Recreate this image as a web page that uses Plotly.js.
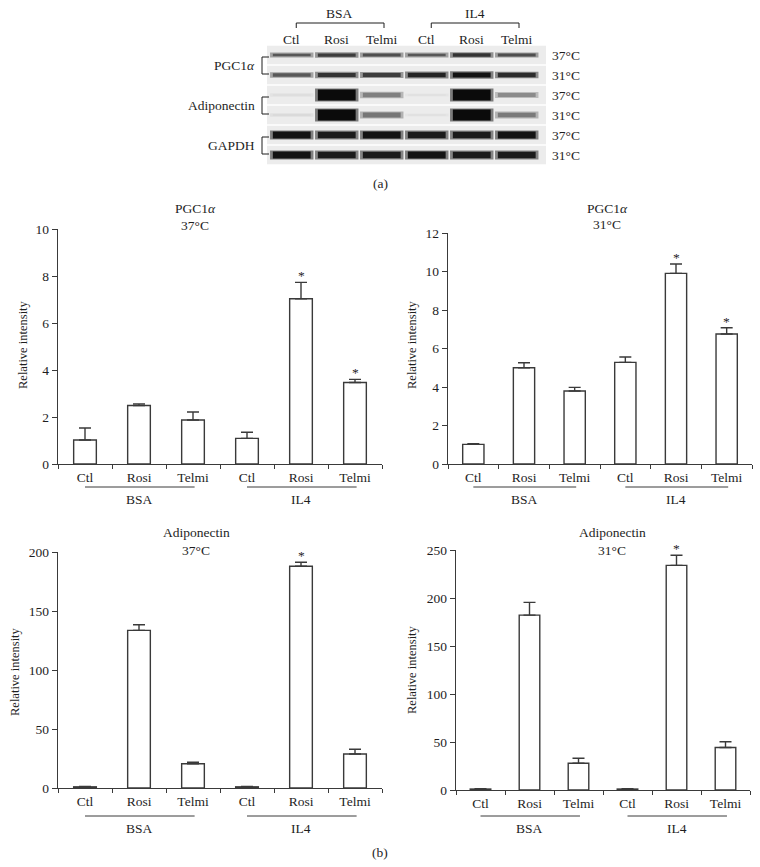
<!DOCTYPE html>
<html><head><meta charset="utf-8">
<script src="https://cdn.plot.ly/plotly-3.0.1.min.js"></script>
<style>html,body{margin:0;padding:0;background:#fff}</style>
</head><body><div id="chart" style="width:760px;height:867px"></div>
<script>
// ---------- data ----------
const treatments = ['Ctl', 'Rosi', 'Telmi', 'Ctl', 'Rosi', 'Telmi'];
const groupNames = ['BSA', 'IL4'];
const groupLanes = [[0, 2], [3, 5]];

const pgc37 = [1.02, 2.49, 1.87, 1.09, 7.03, 3.47];
const pgc37Err = [0.51, 0.07, 0.34, 0.26, 0.70, 0.13];
const pgc37Sig = [false, false, false, false, true, true];

const pgc31 = [1.02, 5.00, 3.79, 5.28, 9.90, 6.75];
const pgc31Err = [0.04, 0.26, 0.19, 0.28, 0.49, 0.33];
const pgc31Sig = [false, false, false, false, true, true];

const adipo37 = [1.0, 133.6, 20.6, 1.0, 187.9, 28.8];
const adipo37Err = [0.3, 4.8, 1.2, 0.3, 3.4, 4.0];
const adipo37Sig = [false, false, false, false, true, false];

const adipo31 = [1.0, 182.2, 27.9, 1.0, 234.0, 44.3];
const adipo31Err = [0.3, 13.2, 5.2, 0.3, 10.5, 5.9];
const adipo31Sig = [false, false, false, false, true, false];

// western blot band intensities (0..1), lanes in treatment order
const blotProteins = ['PGC1<i>α</i>', 'Adiponectin', 'GAPDH'];
const blotTemps = ['37°C', '31°C'];
const bandPGC37 = [0.55, 0.70, 0.60, 0.55, 0.75, 0.60];
const bandPGC31 = [0.55, 0.75, 0.70, 0.85, 0.95, 0.80];
const bandAdipo37 = [0.03, 1.00, 0.35, 0.02, 1.00, 0.30];
const bandAdipo31 = [0.04, 1.00, 0.40, 0.02, 1.00, 0.38];
const bandGAPDH37 = [0.95, 0.90, 0.95, 0.90, 0.90, 0.95];
const bandGAPDH31 = [0.95, 0.90, 0.90, 0.95, 0.90, 0.90];

// ---------- layout helpers ----------
const W = 760, H = 867;
const px = v => v / W;
const py = v => 1 - v / H;
const FONT = 'Liberation Serif, Times New Roman, serif';
const INK = '#3a3a3a';
const TXT = '#1e1e1e';
const lanes = treatments.map((_, i) => i);

const charts = [
  {n: '', vals: pgc37, err: pgc37Err, sig: pgc37Sig, xd: [58, 382], yd: [229, 464], range: [0, 10], dtick: 2,
   title: ['PGC1<i>α</i>', '37°C'], tx: 195, ty: [208, 226], ytx: 23, yty: 345, lineY: 487, labY: 499},
  {n: '2', vals: pgc31, err: pgc31Err, sig: pgc31Sig, xd: [448, 752], yd: [233, 464], range: [0, 12], dtick: 2,
   title: ['PGC1<i>α</i>', '31°C'], tx: 607, ty: [208, 224], ytx: 412, yty: 345, lineY: 487, labY: 499},
  {n: '3', vals: adipo37, err: adipo37Err, sig: adipo37Sig, xd: [58, 382], yd: [552, 788], range: [0, 200], dtick: 50,
   title: ['Adiponectin', '37°C'], tx: 196, ty: [532, 550], ytx: 15, yty: 672, lineY: 816, labY: 828},
  {n: '4', vals: adipo31, err: adipo31Err, sig: adipo31Sig, xd: [456, 750], yd: [550, 790], range: [0, 250], dtick: 50,
   title: ['Adiponectin', '31°C'], tx: 612, ty: [532, 550], ytx: 412, yty: 670, lineY: 816, labY: 828}
];

const data = [];
const layout = {
  width: W, height: H, margin: {l: 0, r: 0, t: 0, b: 0},
  paper_bgcolor: '#fff', plot_bgcolor: '#fff', showlegend: false,
  font: {family: FONT, size: 13.5, color: TXT},
  annotations: [], shapes: []
};
const f = (s) => ({family: FONT, size: s, color: TXT});

charts.forEach(c => {
  const xa = 'x' + c.n, ya = 'y' + c.n;
  data.push({
    type: 'bar', x: lanes, y: c.vals, xaxis: xa, yaxis: ya, width: 0.42,
    marker: {color: '#fff', line: {color: INK, width: 1.4}},
    error_y: {type: 'data', symmetric: false, array: c.err, arrayminus: c.err.map(() => 0),
              color: INK, thickness: 1.4, width: 6},
    hoverinfo: 'skip'
  });
  layout['xaxis' + c.n] = {
    domain: [px(c.xd[0]), px(c.xd[1])], anchor: ya, range: [-0.5, 5.5],
    showline: true, linecolor: INK, linewidth: 1.4, showgrid: false, zeroline: false,
    tickmode: 'array', tickvals: lanes, ticktext: treatments, ticks: '',
    tickfont: f(13.5),
    minor: {tickmode: 'array', tickvals: [-0.5, 0.5, 1.5, 2.5, 3.5, 4.5, 5.5], ticks: 'outside',
            ticklen: 4, tickcolor: INK, tickwidth: 1, showgrid: false},
    fixedrange: true
  };
  layout['yaxis' + c.n] = {
    domain: [py(c.yd[1]), py(c.yd[0])], anchor: xa, range: c.range, dtick: c.dtick,
    showline: true, linecolor: INK, linewidth: 1.4, showgrid: false, zeroline: false,
    ticks: 'outside', ticklen: 5, tickcolor: INK, tickwidth: 1,
    tickfont: f(13.5), fixedrange: true
  };
  c.title.forEach((t, k) => layout.annotations.push({
    text: t, xref: 'paper', yref: 'paper', x: px(c.tx), y: py(c.ty[k]),
    xanchor: 'center', yanchor: 'middle', showarrow: false, font: f(13.5)
  }));
  layout.annotations.push({
    text: 'Relative intensity', xref: 'paper', yref: 'paper', x: px(c.ytx), y: py(c.yty),
    textangle: -90, xanchor: 'center', yanchor: 'middle', showarrow: false, font: f(12.5)
  });
  c.sig.forEach((s, i) => {
    if (!s) return;
    layout.annotations.push({
      text: '*', xref: xa, yref: ya, x: i, y: c.vals[i] + c.err[i], yanchor: 'bottom',
      yshift: -3, showarrow: false, font: f(13.5)
    });
  });
  groupNames.forEach((g, k) => {
    const [a, b] = groupLanes[k];
    layout.shapes.push({type: 'line', xref: xa, yref: 'paper', x0: a + 0.0, x1: b + 0.03,
      y0: py(c.lineY), y1: py(c.lineY), line: {color: INK, width: 1}});
    layout.annotations.push({text: g, xref: xa, yref: 'paper', x: (a + b) / 2, y: py(c.labY),
      xanchor: 'center', yanchor: 'middle', showarrow: false, font: f(13.5)});
  });
});

// ---------- western blot (panel a) ----------
const bandRows = [bandPGC37, bandPGC31, bandAdipo37, bandAdipo31, bandGAPDH37, bandGAPDH31];
const bandScale = [3.5, 4.5, 10, 10, 6.5, 6.5];
const BG = 236;
layout.xaxis5 = {domain: [px(267), px(546)], range: [-0.55, 5.65], visible: false, anchor: 'y5', fixedrange: true};
layout.yaxis5 = {domain: [py(165), py(45)], range: [5.5, -0.5], visible: false, anchor: 'x5', fixedrange: true};

bandRows.forEach((row, r) => {
  layout.shapes.push({type: 'rect', xref: 'x5 domain', yref: 'y5', x0: 0, x1: 1, y0: r - 0.46, y1: r + 0.46,
    fillcolor: 'rgb(' + BG + ',' + BG + ',' + BG + ')', line: {width: 0}, layer: 'below'});
  const gray = row.map(v => Math.round(BG - 225 * Math.pow(v, 0.7)));
  const core = gray.map(g => 'rgb(' + g + ',' + g + ',' + g + ')');
  const halo = gray.map(g => { const h = Math.round((g + BG) / 2); return 'rgb(' + h + ',' + h + ',' + h + ')'; });
  // soft halo underneath
  data.push({
    type: 'scatter', mode: 'markers', x: lanes, y: row.map(() => r), xaxis: 'x5', yaxis: 'y5',
    marker: {symbol: 'line-ew', size: 31, color: halo,
             line: {color: halo, width: row.map(v => 3 + bandScale[r] * v)}},
    hoverinfo: 'skip'
  });
  data.push({
    type: 'scatter', mode: 'markers', x: lanes, y: row.map(() => r), xaxis: 'x5', yaxis: 'y5',
    marker: {symbol: 'line-ew', size: 27, color: core,
             line: {color: core, width: row.map(v => 0.8 + bandScale[r] * v)}},
    hoverinfo: 'skip'
  });
  layout.annotations.push({text: blotTemps[r % 2], xref: 'paper', yref: 'y5', x: px(550), y: r,
    xanchor: 'left', yanchor: 'middle', showarrow: false, font: f(13.5)});
});

blotProteins.forEach((p, k) => {
  const r0 = 2 * k, r1 = 2 * k + 1;
  layout.annotations.push({text: p, xref: 'paper', yref: 'y5', x: px(257), y: (r0 + r1) / 2,
    xanchor: 'right', yanchor: 'middle', showarrow: false, font: f(13.5)});
  layout.shapes.push({type: 'path', xref: 'paper', yref: 'y5',
    path: 'M ' + px(269) + ' ' + (r0 + 0.1) + ' L ' + px(262) + ' ' + (r0 + 0.1) + ' L ' + px(262) + ' ' + (r1 - 0.05) + ' L ' + px(269) + ' ' + (r1 - 0.05),
    line: {color: TXT, width: 1}});
});
treatments.forEach((t, i) => layout.annotations.push({text: t, xref: 'x5', yref: 'paper', x: i, y: py(39),
  xanchor: 'center', yanchor: 'middle', showarrow: false, font: f(13.5)}));
groupNames.forEach((g, k) => {
  const [a, b] = groupLanes[k];
  layout.shapes.push({type: 'path', xref: 'x5', yref: 'paper',
    path: 'M ' + (a + 0.1) + ' ' + py(28) + ' L ' + (a + 0.1) + ' ' + py(23) + ' L ' + (b + 0.05) + ' ' + py(23) + ' L ' + (b + 0.05) + ' ' + py(28),
    line: {color: TXT, width: 1}});
  layout.annotations.push({text: g, xref: 'x5', yref: 'paper', x: (a + b) / 2 + 0.07, y: py(14),
    xanchor: 'center', yanchor: 'middle', showarrow: false, font: f(13.5)});
});

[['(a)', 183], ['(b)', 852]].forEach(([t, y]) => layout.annotations.push({text: t, xref: 'paper', yref: 'paper',
  x: px(380), y: py(y), xanchor: 'center', yanchor: 'middle', showarrow: false, font: f(13.5)}));

Plotly.newPlot('chart', data, layout, {displayModeBar: false, staticPlot: true});
</script>
</body></html>
